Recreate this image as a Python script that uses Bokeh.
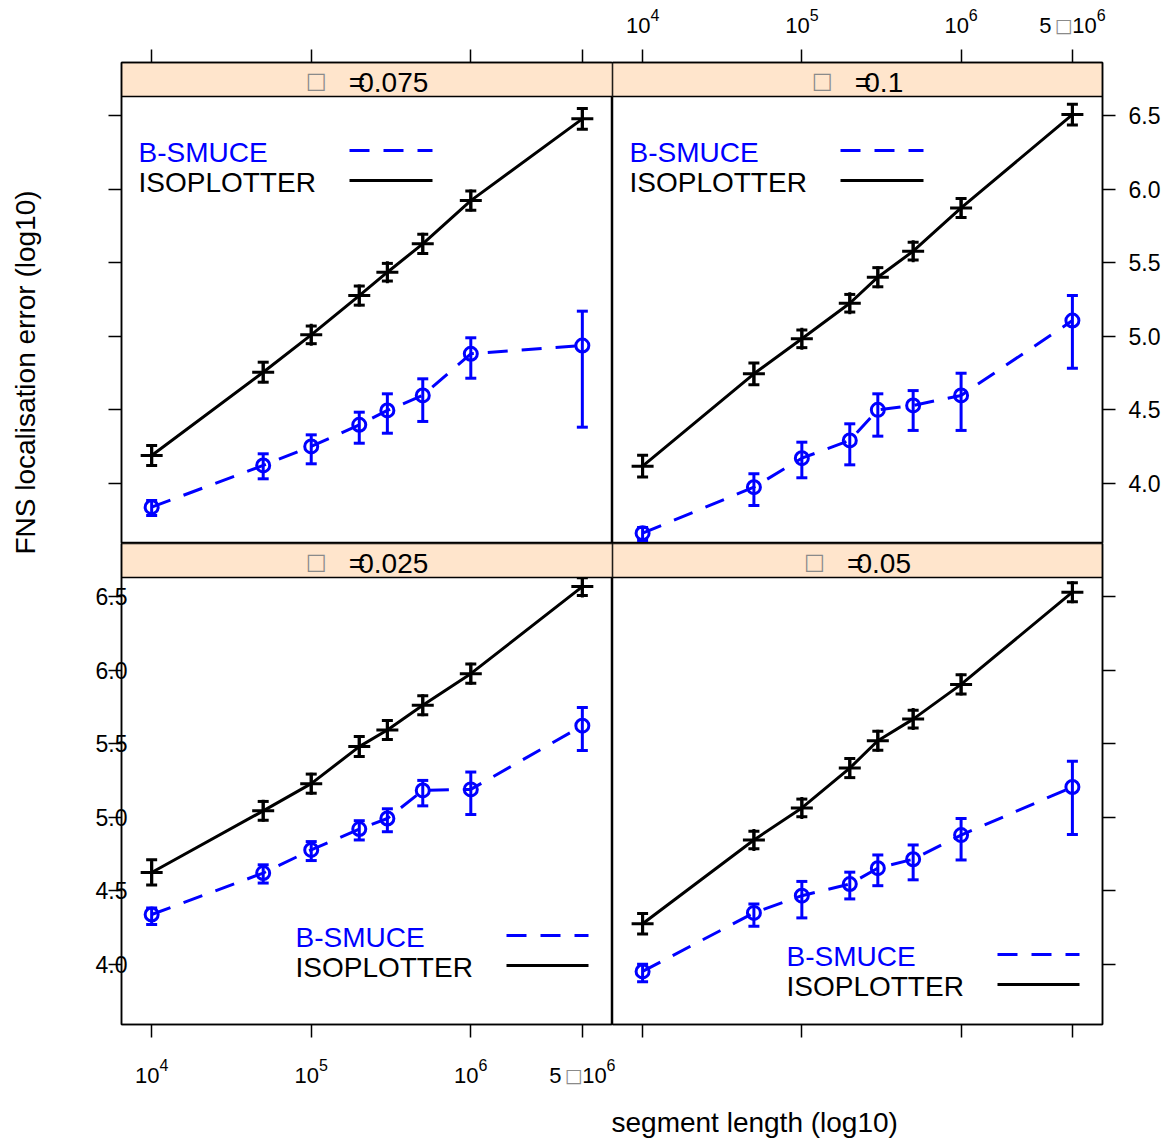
import math
from bokeh.plotting import figure
from bokeh.models import (Range1d, FixedTicker, PrintfTickFormatter, Whisker, TeeHead,
                          Label, ColumnDataSource)
from bokeh.layouts import gridplot, row, column
from bokeh.embed import file_html
from bokeh.resources import INLINE

# ---------------- data ----------------
SEGMENT_LENGTH = [1e4, 5e4, 1e5, 2e5, 3e5, 5e5, 1e6, 5e6]
X_TICKS = [10000, 100000, 1000000, 5000000]
X_TICK_MANTISSA = ["", "", "", "5"]          # label = mantissa □ 10^exponent
X_TICK_EXPONENT = ["4", "5", "6", "6"]
Y_TICKS = [4.0, 4.5, 5.0, 5.5, 6.0, 6.5]
SERIES_NAMES = ["B-SMUCE", "ISOPLOTTER"]
PANEL_ALPHAS = ["0.075", "0.1", "0.025", "0.05"]   # top-left, top-right, bottom-left, bottom-right
X_TITLE = "segment length (log10)"
Y_TITLE = "FNS localisation error (log10)"

# ISOPLOTTER (log10 error) and half-widths of its error bars
ISO_A0075 = [4.189, 4.755, 5.009, 5.276, 5.435, 5.628, 5.922, 6.478]
ISO_A0075_ERR = [0.068, 0.068, 0.060, 0.065, 0.060, 0.065, 0.065, 0.070]
ISO_A01 = [4.116, 4.744, 4.982, 5.224, 5.401, 5.578, 5.872, 6.507]
ISO_A01_ERR = [0.074, 0.074, 0.060, 0.060, 0.065, 0.060, 0.065, 0.070]
ISO_A0025 = [4.624, 5.043, 5.228, 5.480, 5.593, 5.761, 5.976, 6.568]
ISO_A0025_ERR = [0.086, 0.064, 0.065, 0.068, 0.065, 0.065, 0.065, 0.060]
ISO_A005 = [4.275, 4.845, 5.063, 5.334, 5.520, 5.667, 5.903, 6.530]
ISO_A005_ERR = [0.070, 0.060, 0.060, 0.065, 0.065, 0.060, 0.065, 0.065]

# B-SMUCE (log10 error) with lower / upper ends of error bars
BS_A0075 = [3.837, 4.121, 4.250, 4.397, 4.495, 4.597, 4.880, 4.936]
BS_A0075_LO = [3.781, 4.030, 4.132, 4.272, 4.340, 4.420, 4.714, 4.381]
BS_A0075_HI = [3.883, 4.200, 4.329, 4.483, 4.608, 4.710, 4.989, 5.170]
BS_A01 = [3.660, 3.973, 4.170, 4.291, 4.499, 4.529, 4.597, 5.106]
BS_A01_LO = [3.611, 3.849, 4.037, 4.125, 4.320, 4.359, 4.359, 4.782]
BS_A01_HI = [3.699, 4.064, 4.279, 4.404, 4.608, 4.630, 4.748, 5.276]
BS_A0025 = [4.338, 4.620, 4.777, 4.919, 4.991, 5.182, 5.189, 5.622]
BS_A0025_LO = [4.270, 4.552, 4.705, 4.845, 4.901, 5.077, 5.018, 5.453]
BS_A0025_HI = [4.383, 4.676, 4.834, 4.976, 5.057, 5.250, 5.307, 5.746]
BS_A005 = [3.951, 4.349, 4.466, 4.545, 4.653, 4.714, 4.878, 5.205]
BS_A005_LO = [3.881, 4.259, 4.315, 4.444, 4.534, 4.574, 4.709, 4.883]
BS_A005_HI = [4.000, 4.410, 4.563, 4.626, 4.743, 4.811, 4.991, 5.381]

# ---------------- layout / style ----------------
FONT = "Liberation Sans"
BLUE = "#0000FF"
BLACK = "#000000"
BOXGRAY = "#8a8a8a"
STRIP_FILL = "#FFE5CC"

XLIM = (10 ** 3.811, 10 ** 6.888)
YLIM = (3.59, 6.63)
FRAME_H = 481
STRIP_PX = 34
YTOP = YLIM[1] + STRIP_PX * (YLIM[1] - YLIM[0]) / (FRAME_H - STRIP_PX)

PAGE_W, PAGE_H = 1170, 1142
YLAB_W = 48
LEFT_BORDER = 73
FRAME_WL, FRAME_WR = 491, 490
RIGHT_BORDER = PAGE_W - YLAB_W - LEFT_BORDER - FRAME_WL - FRAME_WR
TOP_LAB_H = 40
TOP_BORDER = 22
BOTTOM_BORDER = 22
BOT_LAB_H = 52
XLAB_H = PAGE_H - TOP_LAB_H - TOP_BORDER - 2 * FRAME_H - BOTTOM_BORDER - BOT_LAB_H
INNER_W = PAGE_W - YLAB_W
STRIP_FRAME_W = INNER_W - LEFT_BORDER        # frame width of the label strips (page x 121..1170)

LX0, LX1 = math.log10(XLIM[0]), math.log10(XLIM[1])
ADV = {"0": 0.556, "1": 0.556, "2": 0.556, "4": 0.556, "5": 0.556, "6": 0.556,
       "7": 0.556, ".": 0.278}
MID = 0.37   # "middle" anchor sits this many font-sizes above the baseline


def px_x(dx, frame_w):
    return 10 ** (LX0 + dx * (LX1 - LX0) / frame_w)


def px_y(dy):
    return YTOP - dy * (YTOP - YLIM[0]) / FRAME_H


def tw(s, size):
    return sum(ADV[ch] for ch in s) * size


def add_text(p, x, y, text, size, color=BLACK, font=FONT, x_offset=0, align="left", angle=0.0):
    p.add_layout(Label(x=x, y=y, text=text, text_font=font, text_font_size=f"{size}px",
                       text_color=color, text_align=align, text_baseline="middle",
                       x_offset=x_offset, angle=angle))


def blank_fig(width, height, x_range, log=False, left=0):
    f = figure(width=width, height=height, x_range=x_range, y_range=Range1d(height, 0),
               x_axis_type="log" if log else "linear",
               x_axis_location=None, y_axis_location=None, output_backend="svg",
               toolbar_location=None, title=None, min_border=0, min_border_left=left,
               outline_line_color=None, background_fill_color="white",
               border_fill_color="white")
    f.grid.visible = False
    return f


# legend layout (pixel offsets from frame top-left): text_dx, line_dx0, line_dx1, first baseline dy
LEGEND_POS = {
    (0, 0): (17, 228, 311, 100.7),
    (0, 1): (17, 228, 311, 100.7),
    (1, 0): (174, 385, 467, 404.7),
    (1, 1): (174, 385, 467, 423.7),
}


def style_axis(ax):
    ax.axis_line_color = BLACK
    ax.axis_line_width = 1.5
    ax.major_tick_line_color = BLACK
    ax.major_tick_line_width = 1.5
    ax.major_tick_out = 13
    ax.major_tick_in = 0
    ax.minor_tick_out = 0
    ax.minor_tick_in = 0
    ax.major_label_text_font = FONT
    ax.major_label_text_font_size = "23px"
    ax.major_label_text_color = BLACK
    ax.axis_label = None


def add_x_tick_labels(f, baseline_y):
    big, small, box = 22, 16, 19
    for t, mant, ex in zip(X_TICKS, X_TICK_MANTISSA, X_TICK_EXPONENT):
        start10 = 33.0 if mant else 0.0
        total = start10 + tw("10", big) + tw(ex, small)
        lo = -total / 2
        if mant:
            add_text(f, t, baseline_y - MID * big, mant, big, x_offset=lo)
            add_text(f, t, baseline_y - 8.5, "□", box, color=BOXGRAY,
                     font="DejaVu Sans", x_offset=lo + 15.5)
        add_text(f, t, baseline_y - MID * big, "10", big, x_offset=lo + start10)
        add_text(f, t, baseline_y - 12.5 - MID * small, ex, small,
                 x_offset=lo + start10 + tw("10", big))


def make_panel(r, c, alpha, iso, iso_err, bs, bs_lo, bs_hi):
    top = r == 0
    left = c == 0
    frame_w = FRAME_WL if left else FRAME_WR
    width = LEFT_BORDER + frame_w if left else frame_w + RIGHT_BORDER
    height = TOP_BORDER + FRAME_H if top else FRAME_H + BOTTOM_BORDER
    show = top != left

    p = figure(width=width, height=height, x_axis_type="log",
               x_range=Range1d(*XLIM), y_range=Range1d(YLIM[0], YTOP),
               x_axis_location="above" if top else "below",
               y_axis_location="left" if left else "right",
               output_backend="svg", toolbar_location=None, title=None,
               min_border=0,
               min_border_left=LEFT_BORDER if left else 0,
               min_border_right=0 if left else RIGHT_BORDER,
               min_border_top=TOP_BORDER if top else 0,
               min_border_bottom=0 if top else BOTTOM_BORDER,
               background_fill_color="white", border_fill_color="white")
    p.grid.visible = False
    p.outline_line_color = BLACK
    p.outline_line_width = 1.5

    xa = p.xaxis[0]
    ya = p.yaxis[0]
    style_axis(xa)
    style_axis(ya)
    xa.ticker = FixedTicker(ticks=X_TICKS, minor_ticks=[])
    ya.ticker = FixedTicker(ticks=Y_TICKS, minor_ticks=[])
    ya.formatter = PrintfTickFormatter(format="%.1f")
    xa.major_label_overrides = {t: "" for t in X_TICKS}
    if not show:
        ya.major_label_overrides = {t: "" for t in Y_TICKS}
    ya.major_label_standoff = -19 if left else 13

    # error bars
    iso_src = ColumnDataSource(dict(x=SEGMENT_LENGTH, y=iso,
                                    lo=[v - e for v, e in zip(iso, iso_err)],
                                    hi=[v + e for v, e in zip(iso, iso_err)]))
    bs_src = ColumnDataSource(dict(x=SEGMENT_LENGTH, y=bs, lo=bs_lo, hi=bs_hi))
    for src, col in ((bs_src, BLUE), (iso_src, BLACK)):
        p.add_layout(Whisker(base="x", lower="lo", upper="hi", source=src, dimension="height",
                             line_color=col, line_width=3,
                             upper_head=TeeHead(size=11, line_color=col, line_width=3),
                             lower_head=TeeHead(size=11, line_color=col, line_width=3)))

    p.line("x", "y", source=bs_src, line_color=BLUE, line_width=3, line_dash="20 14")
    p.scatter("x", "y", source=bs_src, marker="circle", size=13, fill_color=None,
              line_color=BLUE, line_width=3)
    p.line("x", "y", source=iso_src, line_color=BLACK, line_width=3)
    p.scatter("x", "y", source=iso_src, marker="cross", size=22, line_color=BLACK, line_width=3)

    # strip
    p.quad(left=[XLIM[0]], right=[XLIM[1]], bottom=[YLIM[1]], top=[YTOP],
           fill_color=STRIP_FILL, line_color=BLACK, line_width=1.5)
    total = 52.5 + tw(alpha, 28)
    lx = frame_w / 2 - total / 2
    add_text(p, px_x(lx, frame_w), px_y(18), "□", 22, color=BOXGRAY, font="DejaVu Sans")
    add_text(p, px_x(lx + 43, frame_w), px_y(30.3 - MID * 28), "=", 28)
    add_text(p, px_x(lx + 52.5, frame_w), px_y(30.3 - MID * 28), alpha, 28)

    # legend (text left, line sample right)
    tdx, l0, l1, b0 = LEGEND_POS[(r, c)]
    for i, (name, col, dash) in enumerate(((SERIES_NAMES[0], BLUE, "20 14"),
                                           (SERIES_NAMES[1], BLACK, "solid"))):
        base = b0 + 30 * i
        add_text(p, px_x(tdx, frame_w), px_y(base - MID * 28), name, 28, color=col)
        ly = px_y(base - 12.7)
        p.segment(x0=[px_x(l0, frame_w)], y0=[ly], x1=[px_x(l1, frame_w)], y1=[ly],
                  line_color=col, line_width=3, line_dash=dash)
    return p


tl = make_panel(0, 0, PANEL_ALPHAS[0], ISO_A0075, ISO_A0075_ERR, BS_A0075, BS_A0075_LO, BS_A0075_HI)
tr = make_panel(0, 1, PANEL_ALPHAS[1], ISO_A01, ISO_A01_ERR, BS_A01, BS_A01_LO, BS_A01_HI)
bl = make_panel(1, 0, PANEL_ALPHAS[2], ISO_A0025, ISO_A0025_ERR, BS_A0025, BS_A0025_LO, BS_A0025_HI)
br = make_panel(1, 1, PANEL_ALPHAS[3], ISO_A005, ISO_A005_ERR, BS_A005, BS_A005_LO, BS_A005_HI)

# Label strips share one frame (page x 121..1170); their log ranges are set so that
# their scale coincides with the panel whose tick labels they carry.
DEC = LX1 - LX0
# above the top-right panel (its frame starts FRAME_WL px right of the strip frame)
top_start = LX0 - FRAME_WL * DEC / FRAME_WR
top_end = top_start + STRIP_FRAME_W * DEC / FRAME_WR
toplab = blank_fig(INNER_W, TOP_LAB_H, Range1d(10 ** top_start, 10 ** top_end), log=True,
                   left=LEFT_BORDER)
add_x_tick_labels(toplab, 32.7)

# below the bottom-left panel
bot_end = LX0 + STRIP_FRAME_W * DEC / FRAME_WL
botlab = blank_fig(INNER_W, BOT_LAB_H, Range1d(XLIM[0], 10 ** bot_end), log=True,
                   left=LEFT_BORDER)
bot_top_page = TOP_LAB_H + TOP_BORDER + 2 * FRAME_H + BOTTOM_BORDER
add_x_tick_labels(botlab, 1083 - bot_top_page)

# y-axis title
ylab = blank_fig(YLAB_W, PAGE_H, Range1d(0, YLAB_W))
add_text(ylab, 25, 372, Y_TITLE, 28, align="center", angle=math.pi / 2)

# x-axis title (x range in page pixels)
xlab = blank_fig(INNER_W, XLAB_H, Range1d(YLAB_W + LEFT_BORDER, PAGE_W), left=LEFT_BORDER)
add_text(xlab, 611, 1132 - MID * 28 - (PAGE_H - XLAB_H), X_TITLE, 28)

grid = gridplot([[tl, tr], [bl, br]], toolbar_location=None)
layout = row(ylab, column(toplab, grid, botlab, xlab))

open("out.html", "w").write(file_html(layout, INLINE))
